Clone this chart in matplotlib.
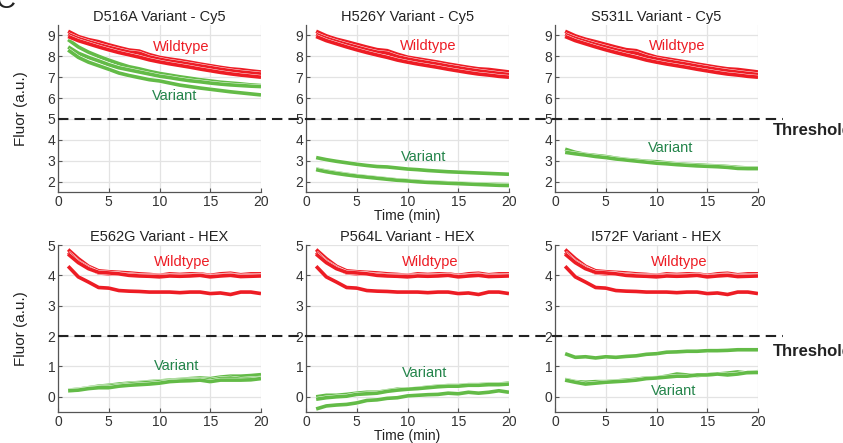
import matplotlib
matplotlib.use("Agg")
import matplotlib.pyplot as plt
import matplotlib.patheffects as pe
import matplotlib.transforms as mtransforms
from matplotlib.lines import Line2D

plt.rcParams['font.family'] = ['Liberation Sans', 'DejaVu Sans']

time_min = list(range(1, 21))

titles = ["D516A Variant - Cy5", "H526Y Variant - Cy5", "S531L Variant - Cy5",
          "E562G Variant - HEX", "P564L Variant - HEX", "I572F Variant - HEX"]

# Cy5 wildtype traces
cy5_wt_d516a = [
    [9.2, 8.95, 8.8, 8.7, 8.55, 8.42, 8.3, 8.25, 8.08, 7.95, 7.87, 7.8, 7.72, 7.63, 7.55, 7.47, 7.4, 7.36, 7.3, 7.25],
    [9.05, 8.85, 8.7, 8.56, 8.43, 8.31, 8.2, 8.15, 7.97, 7.86, 7.77, 7.7, 7.62, 7.54, 7.46, 7.38, 7.31, 7.25, 7.2, 7.15],
    [8.95, 8.75, 8.6, 8.45, 8.31, 8.18, 8.07, 7.96, 7.83, 7.73, 7.64, 7.56, 7.48, 7.39, 7.31, 7.23, 7.16, 7.1, 7.05, 7.0],
]
cy5_wt = [
    [9.2, 8.98, 8.82, 8.7, 8.57, 8.44, 8.32, 8.27, 8.1, 7.96, 7.88, 7.8, 7.72, 7.63, 7.55, 7.47, 7.4, 7.37, 7.31, 7.25],
    [9.05, 8.86, 8.71, 8.57, 8.44, 8.31, 8.2, 8.15, 7.98, 7.87, 7.78, 7.7, 7.62, 7.53, 7.45, 7.37, 7.3, 7.24, 7.18, 7.13],
    [8.95, 8.75, 8.6, 8.45, 8.31, 8.18, 8.06, 7.95, 7.82, 7.72, 7.63, 7.55, 7.47, 7.38, 7.3, 7.22, 7.15, 7.1, 7.04, 7.0],
]
cy5_var_d516a = [
    [8.8, 8.45, 8.2, 8.0, 7.82, 7.65, 7.5, 7.4, 7.28, 7.18, 7.1, 7.02, 6.95, 6.88, 6.82, 6.76, 6.72, 6.68, 6.63, 6.6],
    [8.45, 8.15, 7.95, 7.78, 7.6, 7.45, 7.35, 7.25, 7.15, 7.05, 6.98, 6.9, 6.83, 6.78, 6.72, 6.67, 6.63, 6.6, 6.57, 6.55],
    [8.3, 7.95, 7.72, 7.55, 7.38, 7.2, 7.08, 6.98, 6.88, 6.82, 6.72, 6.62, 6.55, 6.48, 6.42, 6.36, 6.3, 6.25, 6.2, 6.15],
]
cy5_var_h526y = [
    [3.15, 3.05, 2.97, 2.9, 2.83, 2.77, 2.72, 2.7, 2.65, 2.6, 2.57, 2.53, 2.5, 2.47, 2.45, 2.43, 2.41, 2.39, 2.37, 2.35],
    [2.6, 2.5, 2.42, 2.35, 2.28, 2.23, 2.18, 2.13, 2.08, 2.05, 2.01, 1.98, 1.96, 1.94, 1.92, 1.9, 1.89, 1.87, 1.86, 1.85],
    [2.57, 2.47, 2.39, 2.32, 2.26, 2.21, 2.16, 2.11, 2.06, 2.03, 1.99, 1.96, 1.94, 1.92, 1.9, 1.88, 1.86, 1.84, 1.82, 1.81],
]
cy5_var_s531l = [
    [3.55, 3.4, 3.3, 3.25, 3.2, 3.12, 3.06, 3.02, 2.97, 2.95, 2.9, 2.85, 2.82, 2.8, 2.77, 2.75, 2.72, 2.68, 2.65, 2.65],
    [3.4, 3.33, 3.27, 3.2, 3.15, 3.08, 3.03, 2.98, 2.93, 2.88, 2.85, 2.81, 2.78, 2.75, 2.73, 2.71, 2.68, 2.63, 2.62, 2.62],
]
# HEX wildtype traces
hex_wt = [
    [4.85, 4.55, 4.3, 4.15, 4.12, 4.1, 4.08, 4.05, 4.03, 4.0, 4.05, 4.03, 4.05, 4.05, 4.0, 4.05, 4.07, 4.02, 4.05, 4.05],
    [4.75, 4.45, 4.25, 4.08, 4.05, 4.05, 4.03, 4.0, 4.0, 3.98, 4.0, 4.0, 4.0, 4.02, 3.97, 4.0, 4.02, 3.98, 4.0, 4.0],
    [4.7, 4.42, 4.22, 4.1, 4.08, 4.05, 4.0, 3.98, 3.97, 3.95, 3.98, 3.97, 3.98, 4.0, 3.95, 3.98, 4.0, 3.96, 3.97, 3.98],
    [4.3, 3.95, 3.78, 3.6, 3.58, 3.5, 3.48, 3.47, 3.45, 3.45, 3.45, 3.43, 3.45, 3.45, 3.4, 3.42, 3.37, 3.45, 3.45, 3.4],
]
hex_var_e562g = [
    [0.22, 0.25, 0.3, 0.35, 0.38, 0.42, 0.45, 0.47, 0.5, 0.52, 0.55, 0.57, 0.6, 0.62, 0.6, 0.65, 0.68, 0.68, 0.7, 0.73],
    [0.2, 0.23, 0.28, 0.32, 0.35, 0.38, 0.42, 0.45, 0.47, 0.5, 0.52, 0.55, 0.57, 0.58, 0.55, 0.6, 0.62, 0.58, 0.6, 0.62],
    [0.2, 0.22, 0.27, 0.3, 0.3, 0.35, 0.38, 0.4, 0.42, 0.45, 0.5, 0.52, 0.53, 0.55, 0.5, 0.55, 0.55, 0.55, 0.56, 0.6],
]
hex_var_p564l = [
    [0.0, 0.05, 0.05, 0.08, 0.12, 0.15, 0.15, 0.2, 0.25, 0.25, 0.28, 0.32, 0.35, 0.37, 0.37, 0.4, 0.4, 0.42, 0.42, 0.45],
    [-0.08, -0.03, 0.0, 0.02, 0.08, 0.1, 0.12, 0.18, 0.22, 0.25, 0.27, 0.3, 0.33, 0.35, 0.35, 0.38, 0.38, 0.4, 0.4, 0.42],
    [-0.4, -0.3, -0.27, -0.25, -0.2, -0.12, -0.1, -0.05, -0.03, 0.03, 0.05, 0.07, 0.08, 0.12, 0.1, 0.15, 0.12, 0.15, 0.2, 0.15],
]
hex_var_i572f = [
    [1.42, 1.3, 1.32, 1.28, 1.32, 1.3, 1.33, 1.35, 1.4, 1.42, 1.47, 1.48, 1.5, 1.5, 1.52, 1.52, 1.53, 1.55, 1.55, 1.55],
    [0.57, 0.5, 0.48, 0.5, 0.5, 0.52, 0.55, 0.58, 0.62, 0.63, 0.68, 0.75, 0.72, 0.7, 0.73, 0.75, 0.78, 0.82, 0.78, 0.83],
    [0.55, 0.48, 0.42, 0.45, 0.48, 0.5, 0.52, 0.55, 0.6, 0.62, 0.65, 0.68, 0.68, 0.72, 0.72, 0.75, 0.72, 0.75, 0.8, 0.8],
]

wt_sets = [cy5_wt_d516a, cy5_wt, cy5_wt, hex_wt, hex_wt, hex_wt]
var_sets = [cy5_var_d516a, cy5_var_h526y, cy5_var_s531l, hex_var_e562g, hex_var_p564l, hex_var_i572f]

wt_label_pos = [(12.1, 8.47), (12.0, 8.5), (12.0, 8.5), (12.2, 4.43), (12.2, 4.43), (12.2, 4.43)]
var_label_pos = [(11.5, 6.08), (11.6, 3.2), (11.4, 3.63), (11.7, 1.03), (11.7, 0.8), (11.7, 0.2)]

thresholds = [5, 2]
threshold_label = "Threshold"

RED = "#ED1C24"
GREEN = "#63BB47"
GREEN_TXT = "#23844A"
TICK_C = "#333333"

W, H = 843, 443
fig = plt.figure(figsize=(W / 100, H / 100), dpi=100)

lefts = [58, 306, 555]
ax_w = 203
rows = [(25, 192), (245, 412)]
thr_label_y = [130, 352]

axes = []
for r, (top, bot) in enumerate(rows):
    for c in range(3):
        ax = fig.add_axes([lefts[c] / W, 1 - bot / H, ax_w / W, (bot - top) / H])
        axes.append(ax)

lw = 2.6
strokes = [pe.Stroke(linewidth=lw + 0.6, foreground="white"), pe.Normal()]

for i, ax in enumerate(axes):
    for s in var_sets[i]:
        ax.plot(time_min, s, color=GREEN, lw=lw, path_effects=strokes, solid_capstyle="butt", zorder=3)
    for s in wt_sets[i]:
        ax.plot(time_min, s, color=RED, lw=lw, path_effects=strokes, solid_capstyle="butt", zorder=3)
    ax.set_xlim(0, 20)
    ax.set_xticks([0, 5, 10, 15, 20])
    if i < 3:
        ax.set_ylim(1.5, 9.5)
        ax.set_yticks(range(2, 10))
    else:
        ax.set_ylim(-0.5, 5)
        ax.set_yticks(range(0, 6))
    ax.grid(True, color="#E3E3E3", lw=0.9)
    ax.set_axisbelow(True)
    for side in ["top", "right"]:
        ax.spines[side].set_visible(False)
    for side in ["left", "bottom"]:
        ax.spines[side].set_color("#555555")
        ax.spines[side].set_linewidth(0.9)
    ax.tick_params(direction="in", length=3, width=0.8, colors="#555555",
                   labelcolor=TICK_C, labelsize=10, pad=2)
    ax.set_title(titles[i], fontsize=10.5, color="#222222", pad=3)
    ax.text(*wt_label_pos[i], "Wildtype", color=RED, fontsize=10.5, ha="center", va="center")
    ax.text(*var_label_pos[i], "Variant", color=GREEN_TXT, fontsize=10.5, ha="center", va="center")
    if i % 3 == 0:
        ax.set_ylabel("Fluor (a.u.)", fontsize=11, color="#222222", labelpad=14)
    if i % 3 == 1:
        ax.set_xlabel("Time (min)", fontsize=10, color="#222222", labelpad=0)

# threshold lines spanning panels
for r, thr in enumerate(thresholds):
    ax0 = axes[r * 3]
    tr = mtransforms.blended_transform_factory(fig.transFigure, ax0.transData)
    line = Line2D([58 / W, 783 / W], [thr, thr], transform=tr, color="#222222",
                  lw=1.5, dashes=(5.0, 2.9), zorder=10)
    fig.add_artist(line)
    fig.text(773 / W, 1 - thr_label_y[r] / H, threshold_label, fontsize=12, fontweight="bold",
             color="#222222", ha="left", va="center")

fig.text(-4 / W, 1 - 8 / H, "C", fontsize=20, color="#222222", ha="left", va="baseline")

fig.savefig("out.png", dpi=100)
